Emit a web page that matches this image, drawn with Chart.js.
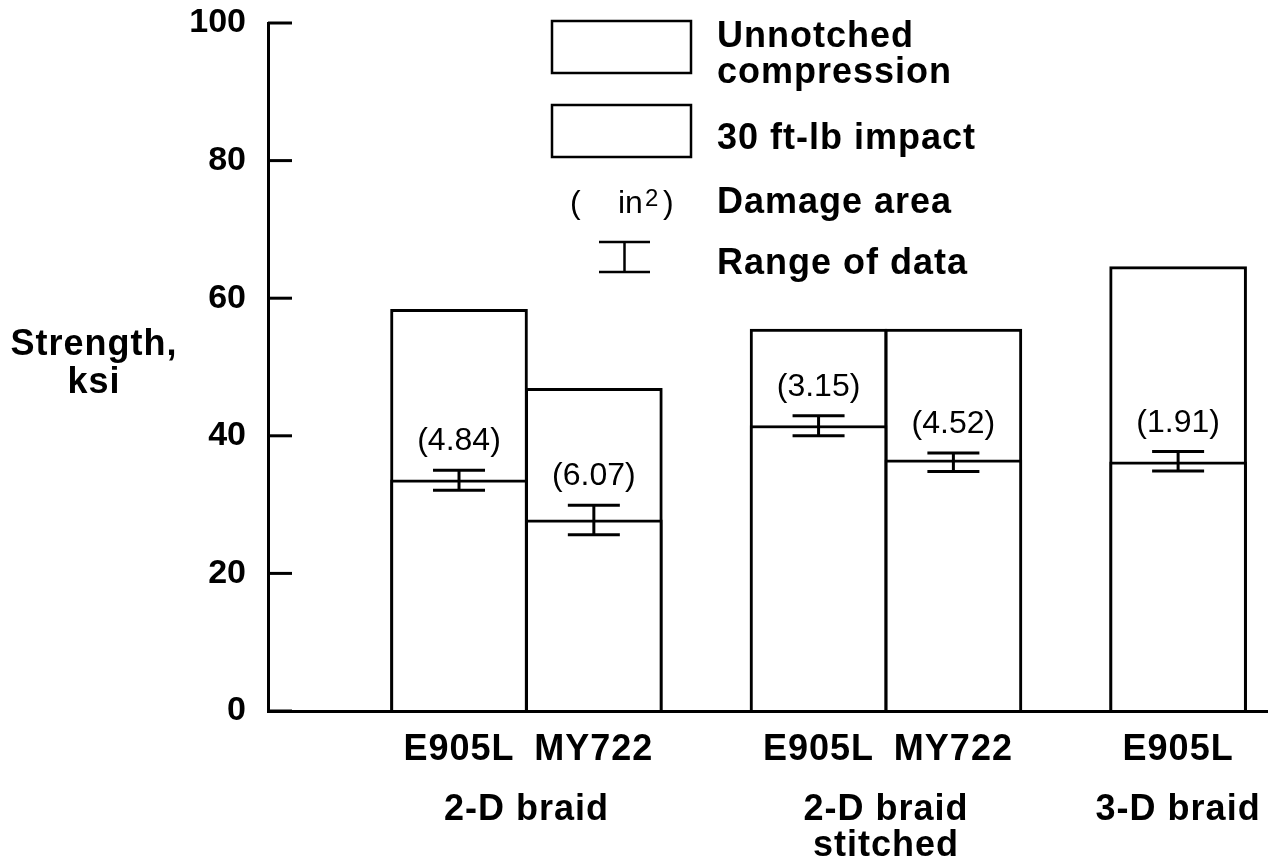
<!DOCTYPE html>
<html><head><meta charset="utf-8">
<script src="https://cdn.jsdelivr.net/npm/chart.js@4.4.0/dist/chart.umd.min.js"></script>
<style>html,body{margin:0;padding:0;background:#fff}</style>
</head><body>
<canvas id="c" width="1268" height="861"></canvas>
<script>
// ---- data ----
const materials = ['E905L', 'MY722', 'E905L', 'MY722', 'E905L'];
const barGroup = [0, 0, 1, 1, 2];
const groupNames = [['2-D braid'], ['2-D braid', 'stitched'], ['3-D braid']];
const unnotched = [58.4, 46.9, 55.5, 55.5, 64.6];
const impact = [33.6, 27.8, 41.5, 36.5, 36.2];
const rangeLow = [32.1, 25.6, 40.0, 34.8, 34.9];
const rangeHigh = [35.0, 29.9, 42.9, 37.5, 37.7];
const damageArea = ['(4.84)', '(6.07)', '(3.15)', '(4.52)', '(1.91)'];
const yTicks = [0, 20, 40, 60, 80, 100];

// ---- layout (slot grid of the category axis) ----
const FIRST_SLOT = 17, IN_GROUP = 12, BETWEEN = 20, N_SLOTS = 90;
const slots = [];
let sl = FIRST_SLOT;
materials.forEach((m, i) => {
  if (i > 0) sl += barGroup[i] === barGroup[i - 1] ? IN_GROUP : BETWEEN;
  slots.push(sl);
});
const labels = Array(N_SLOTS).fill('');
slots.forEach((s, i) => { labels[s] = materials[i]; });
function spread(values) {
  const out = Array(N_SLOTS).fill(null);
  values.forEach((v, i) => { out[slots[i]] = v; });
  return out;
}

const FAM = "'Liberation Sans', Arial, Helvetica, sans-serif";
Chart.defaults.font.family = FAM;
Chart.defaults.color = '#000';

function txt(ctx, s, x, y, size, bold, align, spacing) {
  ctx.save();
  ctx.letterSpacing = spacing || '0px';
  ctx.font = (bold ? 'bold ' : '') + size + 'px ' + FAM;
  ctx.fillStyle = '#000';
  ctx.textAlign = align || 'left';
  ctx.textBaseline = 'alphabetic';
  ctx.fillText(s, x, y);
  ctx.restore();
}
function line(ctx, x1, y1, x2, y2, w) {
  ctx.save();
  ctx.strokeStyle = '#000';
  ctx.lineWidth = w || 3;
  ctx.beginPath(); ctx.moveTo(x1, y1); ctx.lineTo(x2, y2); ctx.stroke();
  ctx.restore();
}

const decor = {
  id: 'decor',
  beforeDraw(chart) { chart.ctx.letterSpacing = '0px'; },
  afterDatasetsDraw(chart) {
    const ctx = chart.ctx;
    const x = chart.scales.x, y = chart.scales.y;
    slots.forEach((s, i) => {
      const px = x.getPixelForValue(s);
      const yl = y.getPixelForValue(rangeLow[i]);
      const yh = y.getPixelForValue(rangeHigh[i]);
      line(ctx, px - 26, yh, px + 26, yh, 3);
      line(ctx, px - 26, yl, px + 26, yl, 3);
      line(ctx, px, yh, px, yl, 3);
      txt(ctx, damageArea[i], px, yh - 20, 32, false, 'center');
    });
    chart.ctx.letterSpacing = '1px';
  },
  afterDraw(chart) {
    const ctx = chart.ctx;
    ctx.letterSpacing = '0px';
    const area = chart.chartArea;
    const x = chart.scales.x, y = chart.scales.y;
    // inward ticks on y axis
    yTicks.forEach(v => {
      const py = y.getPixelForValue(v);
      line(ctx, area.left, py, area.left + 24, py, 3);
    });
    // y axis title
    txt(ctx, 'Strength,', 94, 355, 36, true, 'center', '1px');
    txt(ctx, 'ksi', 94, 393, 36, true, 'center', '1px');
    // group labels
    groupNames.forEach((lines, g) => {
      const xs = slots.filter((s, i) => barGroup[i] === g).map(s => x.getPixelForValue(s));
      const cx = xs.reduce((a, b) => a + b, 0) / xs.length;
      lines.forEach((t, k) => txt(ctx, t, cx, area.bottom + 109 + k * 36, 36, true, 'center', '1px'));
    });
    // legend
    ctx.save();
    ctx.strokeStyle = '#000'; ctx.lineWidth = 2.5;
    ctx.strokeRect(552, 21, 139, 52);
    ctx.strokeRect(552, 105, 139, 52);
    ctx.restore();
    txt(ctx, 'Unnotched', 717, 47, 36, true, 'left', '1px');
    txt(ctx, 'compression', 717, 83, 36, true, 'left', '1px');
    txt(ctx, '30 ft-lb impact', 717, 149, 36, true, 'left', '1px');
    txt(ctx, 'Damage area', 717, 213, 36, true, 'left', '1px');
    txt(ctx, 'Range of data', 717, 274, 36, true, 'left', '1px');
    txt(ctx, '(', 570, 213, 32, false, 'left');
    txt(ctx, 'in', 618, 213, 32, false, 'left');
    txt(ctx, '2', 645, 206, 24, false, 'left');
    txt(ctx, ')', 663, 213, 32, false, 'left');
    line(ctx, 599, 242, 650, 242, 2.5);
    line(ctx, 599, 272, 650, 272, 2.5);
    line(ctx, 624.5, 242, 624.5, 272, 2.5);
  }
};

const barStyle = {
  grouped: false,
  backgroundColor: '#fff',
  borderColor: '#000',
  borderWidth: 3,
  borderSkipped: 'start',
  barThickness: 137
};

new Chart(document.getElementById('c'), {
  type: 'bar',
  data: {
    labels: labels,
    datasets: [
      Object.assign({ label: 'Unnotched compression', order: 1, data: spread(unnotched) }, barStyle),
      Object.assign({ label: '30 ft-lb impact', order: 0, data: spread(impact) }, barStyle)
    ]
  },
  options: {
    responsive: false,
    devicePixelRatio: 1,
    animation: false,
    events: [],
    layout: { padding: { top: 23, right: 0, left: 0, bottom: 0 } },
    plugins: { legend: { display: false }, tooltip: { enabled: false } },
    scales: {
      x: {
        type: 'category',
        offset: false,
        grid: { display: false, drawTicks: false },
        border: { display: true, color: '#000', width: 3, z: 1 },
        ticks: { z: 1, autoSkip: false, maxRotation: 0, minRotation: 0, color: '#000',
                 padding: 17, font: { size: 36, weight: 'bold' } },
        afterFit: s => { s.height = 150; s.paddingLeft = 0; s.paddingRight = 0; }
      },
      y: {
        min: 0, max: 100,
        afterBuildTicks: s => { s.ticks = yTicks.map(v => ({ value: v })); },
        grid: { display: false, drawTicks: false },
        border: { display: true, color: '#000', width: 3 },
        ticks: { color: '#000', padding: 22, font: { size: 34, weight: 'bold' } },
        afterFit: s => { s.width = 268; s.paddingTop = 0; s.paddingBottom = 0; }
      }
    }
  },
  plugins: [decor]
});
</script>
</body></html>
